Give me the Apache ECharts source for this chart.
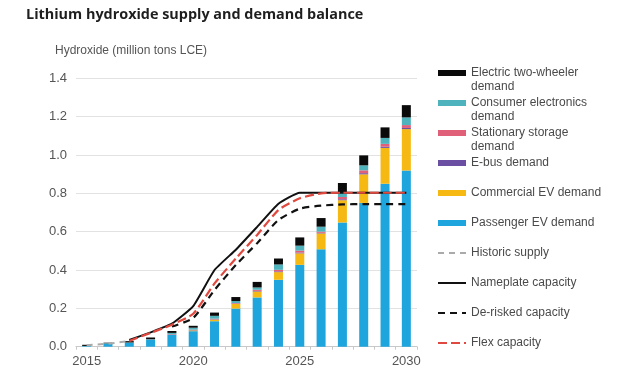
<!DOCTYPE html>
<html>
<head>
<meta charset="utf-8">
<script src="https://cdn.jsdelivr.net/npm/echarts@6/dist/echarts.min.js"></script>
<style>
html,body{margin:0;padding:0;background:#fff;}
#chart{width:640px;height:385px;}
</style>
</head>
<body>
<div id="chart"></div>
<script>
// ---- data ----
var years = ['2015','2016','2017','2018','2019','2020','2021','2022','2023','2024','2025','2026','2027','2028','2029','2030'];
var yTicks = [0, 0.2, 0.4, 0.6, 0.8, 1.0, 1.2, 1.4];

var passengerEV   = [0.003, 0.015, 0.020, 0.036, 0.062, 0.081, 0.133, 0.199, 0.257, 0.349, 0.427, 0.508, 0.648, 0.750, 0.850, 0.919];
var commercialEV  = [0, 0, 0, 0, 0.001, 0.004, 0.008, 0.024, 0.031, 0.040, 0.060, 0.083, 0.116, 0.149, 0.187, 0.216];
var eBus          = [0, 0, 0, 0.001, 0.002, 0.002, 0.002, 0.002, 0.003, 0.004, 0.004, 0.003, 0.005, 0.006, 0.006, 0.006];
var stationary    = [0, 0, 0, 0, 0.001, 0.002, 0.003, 0.003, 0.006, 0.008, 0.010, 0.006, 0.012, 0.015, 0.015, 0.015];
var consumerElec  = [0.001, 0.003, 0.002, 0.002, 0.006, 0.010, 0.015, 0.010, 0.012, 0.028, 0.026, 0.026, 0.026, 0.026, 0.031, 0.040];
var twoWheeler    = [0.006, 0.003, 0.007, 0.009, 0.010, 0.010, 0.017, 0.021, 0.029, 0.031, 0.043, 0.045, 0.047, 0.052, 0.055, 0.064];

var historicSupply = [0.008, 0.015, 0.030, null, null, null, null, null, null, null, null, null, null, null, null, null];
var nameplate      = [null, null, 0.035, 0.075, 0.120, 0.212, 0.400, 0.506, 0.625, 0.746, 0.803, 0.803, 0.803, 0.803, 0.803, 0.803];
var deRisked       = [null, null, null, null, 0.105, 0.150, 0.296, 0.426, 0.540, 0.661, 0.720, 0.736, 0.742, 0.744, 0.744, 0.744];
var flex           = [null, null, 0.030, 0.072, 0.115, 0.172, 0.330, 0.460, 0.583, 0.713, 0.774, 0.800, 0.803, 0.803, 0.803, 0.803];

var names = {
  two: 'Electric two-wheeler\ndemand',
  cons: 'Consumer electronics\ndemand',
  stat: 'Stationary storage\ndemand',
  ebus: 'E-bus demand',
  comm: 'Commercial EV demand',
  pass: 'Passenger EV demand',
  hist: 'Historic supply',
  name: 'Nameplate capacity',
  derisk: 'De-risked capacity',
  flex: 'Flex capacity'
};

var chart = echarts.init(document.getElementById('chart'));

function bar(name, data, color) {
  return {
    name: name, type: 'bar', stack: 'demand', data: data, barWidth: 9,
    itemStyle: { color: color }, emphasis: { disabled: true }
  };
}
function line(name, data, color, type, width, smooth, z) {
  return {
    name: name, type: 'line', data: data, symbol: 'none', smooth: smooth,
    connectNulls: false, z: z,
    lineStyle: { color: color, type: type, width: width },
    itemStyle: { color: color }, emphasis: { disabled: true }
  };
}

var noSymbol = { opacity: 0 };

var option = {
  backgroundColor: '#ffffff',
  animation: false,
  title: [{
    text: 'Lithium hydroxide supply and demand balance',
    left: 21, top: 3,
    textStyle: { fontFamily: 'Open Sans', fontWeight: 'bold', fontSize: 14.4, color: '#1e1e1e' }
  }, {
    text: 'Hydroxide (million tons LCE)',
    left: 50, top: 40,
    textStyle: { fontFamily: 'Liberation Sans', fontWeight: 'normal', fontSize: 12, color: '#555' }
  }],
  grid: { left: 76, top: 78.3, width: 341, bottom: 38.3, containLabel: false },
  legend: {
    orient: 'vertical', left: 437, top: 52, padding: 0,
    itemWidth: 28, itemHeight: 6, itemGap: -12,
    selectedMode: false,
    formatter: function (n) {
      // first text line level with the icon
      return n.indexOf('\n') >= 0 ? ' \n' + n : ' \n' + n + '\n ';
    },
    textStyle: { fontFamily: 'Liberation Sans', fontSize: 12, color: '#4a4a4a', lineHeight: 14 },
    data: [
      { name: names.two, icon: 'rect' },
      { name: names.cons, icon: 'rect' },
      { name: names.stat, icon: 'rect' },
      { name: names.ebus, icon: 'rect' },
      { name: names.comm, icon: 'rect' },
      { name: names.pass, icon: 'rect' },
      { name: names.hist, itemStyle: noSymbol },
      { name: names.name, itemStyle: noSymbol },
      { name: names.derisk, itemStyle: noSymbol },
      { name: names.flex, itemStyle: noSymbol }
    ]
  },
  xAxis: {
    type: 'category', data: years,
    axisLine: { lineStyle: { color: '#c8c8c8' } },
    axisTick: { show: true, length: 3, interval: 0, lineStyle: { color: '#c8c8c8' } },
    axisLabel: {
      interval: function (idx) { return idx % 5 === 0; },
      fontFamily: 'Liberation Sans', fontSize: 13, color: '#555', margin: 8
    }
  },
  yAxis: {
    type: 'value', min: 0, max: 1.4, interval: 0.2,
    axisLine: { show: false }, axisTick: { show: false },
    splitLine: { lineStyle: { color: '#e2e2e2' } },
    axisLabel: {
      formatter: function (v) { return v.toFixed(1); },
      fontFamily: 'Liberation Sans', fontSize: 13, color: '#555', margin: 9
    }
  },
  series: [
    bar(names.pass, passengerEV, '#1ea5dd'),
    bar(names.comm, commercialEV, '#f6b914'),
    bar(names.ebus, eBus, '#6a4fa3'),
    bar(names.stat, stationary, '#e0607a'),
    bar(names.cons, consumerElec, '#4fb3bd'),
    bar(names.two, twoWheeler, '#0a0a0a'),
    line(names.hist, historicSupply, '#aaaaaa', [6, 5], 2, false, 3),
    line(names.name, nameplate, '#111111', 'solid', 2, 0.15, 4),
    line(names.derisk, deRisked, '#111111', [7, 5], 2.2, 0.2, 5),
    line(names.flex, flex, '#e0493f', [9, 4], 2.2, 0.2, 6)
  ]
};
chart.setOption(option);
</script>
</body>
</html>
